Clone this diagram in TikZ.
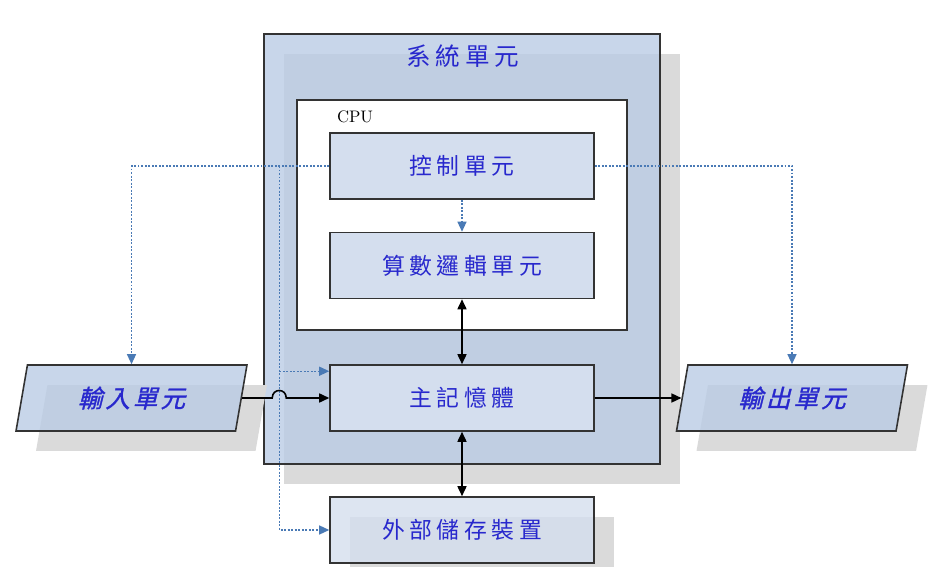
\documentclass[tikz,border=0pt]{standalone}
\usepackage{fontspec}
\newfontfamily\tc{Noto Sans CJK TC}[LetterSpace=20]
\newfontfamily\tcit{Noto Sans CJK TC}[FakeSlant=0.25,FakeBold=1.2,LetterSpace=12]
\usetikzlibrary{shapes.geometric,arrows.meta,shadows,calc}
\definecolor{sysfill}{RGB}{186,204,229}
\definecolor{boxfill}{RGB}{212,222,238}
\definecolor{shadowgray}{RGB}{218,218,218}
\definecolor{cntext}{RGB}{40,40,205}
\definecolor{ctlblue}{RGB}{74,122,181}

\begin{document}
\begin{tikzpicture}[x=0.02cm, y=-0.02cm,
  shadowed/.style={drop shadow={shadow xshift=0.4cm, shadow yshift=-0.4cm, fill=shadowgray, opacity=1}, fill opacity=0.8, text opacity=1},
  unit/.style={draw=black!80, line width=0.9pt, fill=boxfill, minimum width=5.28cm, minimum height=1.32cm, text=cntext, font=\tc\fontsize{13}{15}\selectfont},
  io/.style={trapezium, trapezium left angle=63.4, trapezium right angle=116.6, trapezium stretches body, draw=black!80, line width=0.9pt, fill=sysfill, minimum width=4.62cm, minimum height=1.32cm, inner sep=0pt, text=cntext, font=\tcit\fontsize{14}{16}\selectfont},
  ctlflow/.style={draw=ctlblue, line width=0.7pt, dash pattern=on 1.1pt off 0.9pt, -{Triangle[length=0.2cm, width=0.18cm]}},
  dataflow/.style={draw=black, line width=0.9pt, -{Triangle[length=0.2cm, width=0.18cm]}}]
  \useasboundingbox (0,0) rectangle (947,567);

  % system unit and cpu
  \node[shadowed, draw=black!80, line width=0.9pt, fill=sysfill, minimum width=7.92cm, minimum height=8.6cm] (sys) at (462,249) {};
  \node[text=cntext, font=\tc\fontsize{14}{16}\selectfont] (systitle) at (463,56) {系統單元};
  \node[draw=black!80, line width=0.9pt, fill=white, minimum width=6.6cm, minimum height=4.6cm] (cpu) at (462,215) {};
  \node[font=\fontsize{9.5}{11}\selectfont] (cpulabel) at (355,117) {CPU};

  \node[unit] (ctrl) at (462,166) {控制單元};
  \node[unit] (alu) at (462,265.5) {算數邏輯單元};
  \node[unit] (mem) at (462,398) {主記憶體};
  \node[unit, shadowed] (ext) at (462,530) {外部儲存裝置};

  \node[io, shadowed] (input) at (131.5,398) {輸入單元};
  \node[io, shadowed] (output) at (792,398) {輸出單元};

  % control signals
  \coordinate (bus) at ($(ctrl.west)+(-50,0)$);
  \coordinate (tap) at ($(mem.north west)+(0,7)$);
  \draw[ctlflow] (ctrl.west) -| (input.north);
  \draw[ctlflow] (ctrl.east) -| (output.north);
  \draw[ctlflow] (ctrl) -- (alu);
  \draw[ctlflow] (bus) |- (ext.west);
  \draw[ctlflow] (bus |- tap) -- (tap);

  % data paths
  \draw[dataflow, {Triangle[length=0.2cm, width=0.18cm]}-{Triangle[length=0.2cm, width=0.18cm]}] (alu) -- (mem);
  \draw[dataflow, {Triangle[length=0.2cm, width=0.18cm]}-{Triangle[length=0.2cm, width=0.18cm]}] (mem) -- (ext);
  \draw[dataflow] (input.east) -- ($(bus |- mem.west)+(-7,0)$) .. controls +(0,-10) and +(0,-10) .. ($(bus |- mem.west)+(7,0)$) -- (mem.west);
  \draw[dataflow] (mem.east) -- (output.west);
\end{tikzpicture}
\end{document}
